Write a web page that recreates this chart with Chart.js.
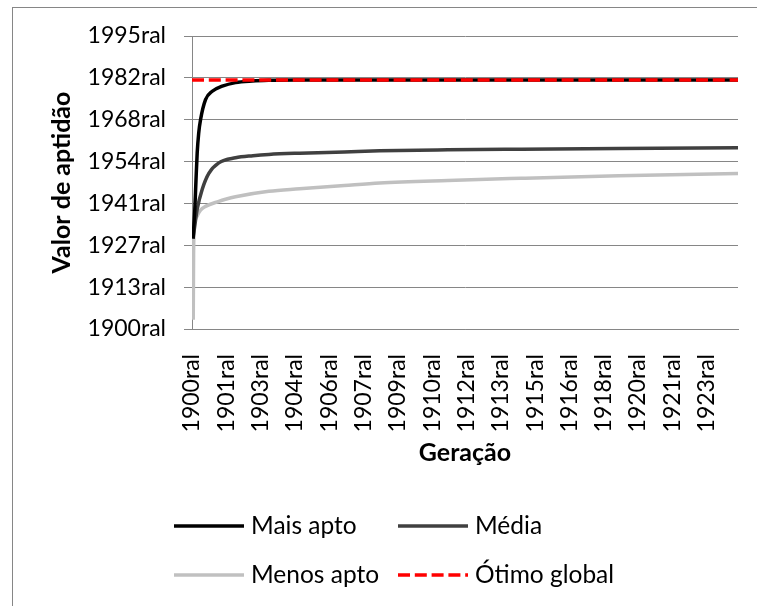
<!DOCTYPE html>
<html>
<head>
<meta charset="utf-8">
<script src="https://cdn.jsdelivr.net/npm/chart.js@4.4.1/dist/chart.umd.min.js"></script>
<style>
html, body { margin: 0; padding: 0; background: #ffffff; }
#wrap { width: 757px; height: 606px; position: relative; }
</style>
</head>
<body>
<div id="wrap"><canvas id="c" width="757" height="606"></canvas></div>
<script>
// ---- data ----
const yTickLabels = ['1900ral', '1913ral', '1927ral', '1941ral', '1954ral', '1968ral', '1982ral', '1995ral'];
const xTickLabels = ['1900ral', '1901ral', '1903ral', '1904ral', '1906ral', '1907ral', '1909ral', '1910ral',
                     '1912ral', '1913ral', '1915ral', '1916ral', '1918ral', '1920ral', '1921ral', '1923ral'];
const xTickValues = [0, 563, 1126, 1689, 2252, 2815, 3378, 3941, 4504, 5067, 5630, 6193, 6756, 7319, 7882, 8445];
const lastGeneration = 8960;

const maisAptoGen = [18, 30, 46, 65, 85, 110, 140, 222, 332, 496, 714, 990, 1256, 1800, 3000, 8960];
const maisAptoVal = [10800, 12300, 14300, 17700, 21000, 23400, 25000, 27400, 28400, 29000, 29430, 29620, 29700, 29735, 29745, 29750];

const mediaGen = [18, 45, 85, 168, 276, 440, 714, 1000, 1261, 1766, 2500, 3080, 4200, 5400, 7000, 8960];
const mediaVal = [10800, 12300, 14300, 16700, 18600, 19850, 20450, 20700, 20850, 21000, 21150, 21280, 21400, 21480, 21570, 21650];

const menosAptoGen = [20, 23, 26, 30, 45, 85, 140, 222, 440, 550, 714, 1261, 1766, 2500, 3080, 4200, 5400, 7000, 8960];
const menosAptoVal = [1100, 5000, 9000, 11000, 12600, 13500, 14200, 14650, 15250, 15500, 15800, 16450, 16750, 17150, 17450, 17750, 18000, 18300, 18580];

const otimoGen = [0, 8960];
const otimoVal = [29750, 29750];

const seriesLabels = ['Mais apto', 'Média', 'Menos apto', 'Ótimo global'];

// ---- helpers ----
const zip = (xs, ys) => xs.map((x, i) => ({ x: x, y: ys[i] }));
const FONT = 'Lato';
const tickFont = { family: FONT, size: 23 };
const titleFont = { family: FONT, size: 25, weight: 'bold' };
const GRID = '#868686';

const framePlugin = {
  id: 'frame',
  beforeDraw(chart) {
    const c = chart.ctx;
    c.save();
    c.fillStyle = '#ffffff';
    c.fillRect(0, 0, chart.width, chart.height);
    c.strokeStyle = GRID;
    c.lineWidth = 1;
    c.strokeRect(12.5, 7.5, 780, 640);
    c.restore();
  }
};

const gridLegendPlugin = {
  id: 'gridLegend',
  afterDraw(chart) {
    const c = chart.ctx;
    const slots = [
      { x: 174, y: 526 }, { x: 398, y: 526 },
      { x: 174, y: 575 }, { x: 398, y: 575 }
    ];
    chart.data.datasets.forEach((ds, i) => {
      const s = slots[i];
      c.save();
      c.strokeStyle = ds.borderColor;
      c.lineWidth = ds.borderWidth;
      c.setLineDash(ds.borderDash || []);
      c.beginPath();
      c.moveTo(s.x, s.y);
      c.lineTo(s.x + 70, s.y);
      c.stroke();
      c.setLineDash([]);
      c.fillStyle = '#000000';
      c.font = '24.5px ' + FONT;
      c.textBaseline = 'middle';
      c.textAlign = 'left';
      c.fillText(ds.label, s.x + 77, s.y);
      c.restore();
    });
  }
};

new Chart(document.getElementById('c'), {
  type: 'line',
  data: {
    datasets: [
      { label: seriesLabels[0], data: zip(maisAptoGen, maisAptoVal), borderColor: '#000000', borderWidth: 3.5, order: 1 },
      { label: seriesLabels[1], data: zip(mediaGen, mediaVal), borderColor: '#404040', borderWidth: 3.5, order: 2 },
      { label: seriesLabels[2], data: zip(menosAptoGen, menosAptoVal), borderColor: '#c0c0c0', borderWidth: 3.5, order: 3 },
      { label: seriesLabels[3], data: zip(otimoGen, otimoVal), borderColor: '#ff0000', borderWidth: 3.5, borderDash: [12, 4.8], order: 0 }
    ]
  },
  options: {
    responsive: false,
    animation: false,
    events: [],
    elements: {
      point: { radius: 0 },
      line: { cubicInterpolationMode: 'monotone', fill: false, borderCapStyle: 'butt' }
    },
    layout: { padding: { left: 0, top: 36, right: 19, bottom: 120 } },
    plugins: { legend: { display: false }, tooltip: { enabled: false } },
    scales: {
      x: {
        type: 'linear',
        min: 0,
        max: lastGeneration,
        afterBuildTicks: (s) => { s.ticks = xTickValues.map(v => ({ value: v })); },
        afterFit: (s) => { s.height = 157; },
        ticks: {
          autoSkip: false, minRotation: 90, maxRotation: 90, padding: 17,
          font: tickFont, color: '#000000',
          callback: (v, i) => xTickLabels[i]
        },
        grid: { display: false },
        border: { display: true, color: GRID, width: 1 },
        title: { display: true, text: 'Geração', font: titleFont, color: '#000000', padding: { top: 0, bottom: 18 } }
      },
      y: {
        min: 0,
        max: 35000,
        afterFit: (s) => { s.width = 192; },
        ticks: {
          stepSize: 5000, padding: 18, font: tickFont, color: '#000000',
          callback: (v, i) => yTickLabels[i]
        },
        grid: { color: GRID, lineWidth: 1, drawTicks: true, tickLength: 8 },
        border: { display: true, color: GRID, width: 1 },
        title: { display: true, text: 'Valor de aptidão', font: titleFont, color: '#000000', padding: { top: 47, bottom: 0 } }
      }
    }
  },
  plugins: [framePlugin, gridLegendPlugin]
});
</script>
</body>
</html>
